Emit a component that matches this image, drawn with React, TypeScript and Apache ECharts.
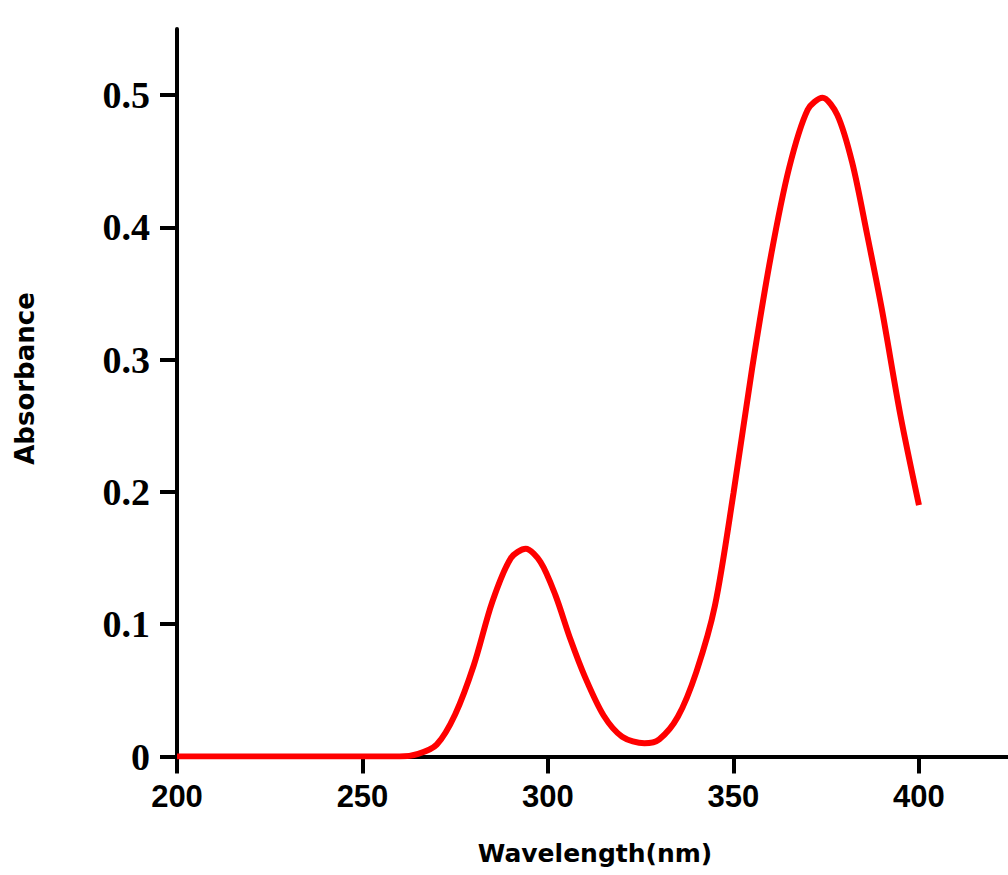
import React, { useEffect, useRef } from "react";
import * as echarts from "echarts";

const wavelengths = [200, 210, 220, 230, 240, 250, 260, 265, 270, 275, 280, 285, 290, 294, 298, 302, 306, 310, 315, 320, 326, 330, 335, 340, 345, 350, 355, 360, 365, 370, 374, 378, 382, 386, 390, 395, 400];
const absorbance = [0, 0, 0, 0, 0, 0, 0, 0.002, 0.009, 0.032, 0.069, 0.117, 0.150, 0.157, 0.147, 0.122, 0.089, 0.060, 0.031, 0.015, 0.010, 0.013, 0.030, 0.064, 0.114, 0.199, 0.293, 0.377, 0.445, 0.489, 0.498, 0.485, 0.449, 0.395, 0.338, 0.258, 0.190];

const xTicks = [200, 250, 300, 350, 400];
const yTicks = [0, 0.1, 0.2, 0.3, 0.4, 0.5];
const xTitle = "Wavelength(nm)";
const yTitle = "Absorbance";

export default function App() {
  const ref = useRef<HTMLDivElement>(null);
  useEffect(() => {
    if (!ref.current) return;
    const chart = echarts.init(ref.current, undefined, { renderer: "svg" });
    const data = wavelengths.map((w, i) => [w, absorbance[i]]);
    chart.setOption({
      animation: false,
      backgroundColor: "#ffffff",
      grid: { left: 177, right: -2, top: 29, bottom: 118.5, containLabel: false },
      xAxis: {
        type: "value",
        min: 200,
        max: 424,
        interval: 50,
        axisLine: { show: true, lineStyle: { color: "#000", width: 4 } },
        axisTick: { show: true, inside: false, length: 17, customValues: xTicks, lineStyle: { color: "#000", width: 4 } },
        splitLine: { show: false },
        axisLabel: {
          margin: 24,
          color: "#000",
          fontFamily: "Liberation Sans",
          fontWeight: "bold",
          fontSize: 31,
          customValues: xTicks,
          formatter: (v: number) => String(v),
        },
      },
      yAxis: {
        type: "value",
        min: 0,
        max: 0.55,
        interval: 0.1,
        axisLine: { show: true, lineStyle: { color: "#000", width: 4 } },
        axisTick: { show: true, inside: false, length: 17, customValues: yTicks, lineStyle: { color: "#000", width: 4 } },
        splitLine: { show: false },
        axisLabel: {
          margin: 27,
          color: "#000",
          fontFamily: "Liberation Serif",
          fontWeight: "bold",
          fontSize: 38,
          customValues: yTicks,
          formatter: (v: number) => (Math.abs(v) < 1e-9 ? "0" : v.toFixed(1)),
        },
      },
      graphic: [
        {
          type: "text",
          x: 595,
          y: 853,
          style: {
            text: xTitle,
            fill: "#000",
            font: "bold 25px 'DejaVu Sans'",
            textAlign: "center",
            textVerticalAlign: "middle",
          },
        },
        {
          type: "text",
          x: 25,
          y: 378.5,
          rotation: Math.PI / 2,
          style: {
            text: yTitle,
            fill: "#000",
            font: "bold 26px 'DejaVu Sans'",
            textAlign: "center",
            textVerticalAlign: "middle",
          },
        },
      ],
      series: [
        {
          type: "line",
          data,
          smooth: 0.3,
          showSymbol: false,
          symbol: "none",
          lineStyle: { color: "#ff0000", width: 6 },
          z: 3,
        },
      ],
    });
    return () => chart.dispose();
  }, []);
  return (
    <div
      ref={ref}
      style={{ position: "fixed", left: 0, top: 0, width: 1008, height: 875, background: "#fff" }}
    />
  );
}
